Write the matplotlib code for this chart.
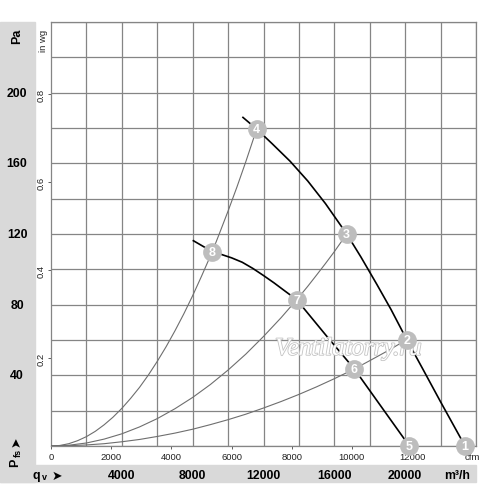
import matplotlib
matplotlib.use('Agg')
import matplotlib.pyplot as plt
import matplotlib.transforms as mtransforms
import matplotlib.patheffects as pe
from matplotlib.patches import Rectangle

# fan curves (qv in m3/h, Pfs in Pa)
upper_q = [10840, 11615, 12500, 13500, 14500, 15500, 16700, 17500, 18400, 19200, 20090,
           21000, 22000, 23380]
upper_p = [186, 179.4, 171, 161.2, 150, 137.2, 120, 107, 91.5, 77.3, 60.2,
           43.5, 25, 0]
lower_q = [8040, 9108, 9600, 10200, 10800, 11400, 12000, 12600, 13200, 13875, 15500,
           17130, 20235]
lower_p = [116.2, 110, 108.5, 106.5, 104, 100.5, 96.5, 92.3, 87.8, 82.8, 63,
           43.6, 0]

# system curves
sys_a_q = [0, 500, 1000, 1500, 2000, 2500, 3000, 3500, 4000, 4500, 5000, 5500, 6000,
           6500, 7000, 7500, 8000, 8500, 9108, 9500, 10000, 10500, 11000, 11615]
sys_a_p = [0, 0.3, 1.3, 3.0, 5.3, 8.3, 12, 16.3, 21.3, 27, 33.2, 40.2, 47.9,
           56.2, 65.2, 74.8, 85.1, 96.1, 110, 120, 133, 146.6, 160.9, 179.4]
sys_b_q = [0, 1000, 2000, 3000, 4000, 5000, 6000, 7000, 8000, 9000, 10000, 11000, 12000,
           13000, 13875, 14500, 15000, 15500, 16000, 16700]
sys_b_p = [0, 0.43, 1.7, 3.9, 6.9, 10.8, 15.5, 21.1, 27.5, 34.8, 43, 52, 62,
           72.7, 82.8, 90.4, 96.8, 103.3, 110, 120]
sys_c_q = [0, 1000, 2000, 3000, 4000, 5000, 6000, 7000, 8000, 9000, 10000, 11000, 12000,
           13000, 14000, 15000, 16000, 17130, 18000, 19000, 20090]
sys_c_p = [0, 0.15, 0.6, 1.3, 2.4, 3.7, 5.4, 7.3, 9.5, 12.1, 14.9, 18, 21.5,
           25.2, 29.2, 33.5, 38.1, 43.6, 48.3, 53.8, 60.2]

# numbered operating points
pt_labels = ['1', '2', '3', '4', '5', '6', '7', '8']
pt_q = [23380, 20090, 16700, 11615, 20235, 17130, 13875, 9108]
pt_p = [0, 60.2, 120, 179.4, 0, 43.6, 82.8, 110]

pa_ticks = [40, 80, 120, 160, 200]
m3h_ticks = [4000, 8000, 12000, 16000, 20000]
cfm_ticks = [0, 2000, 4000, 6000, 8000, 10000, 12000, 14000]
inwg_ticks = [0.2, 0.4, 0.6, 0.8]

W, H = 500, 489
fig = plt.figure(figsize=(W / 100, H / 100), dpi=100)
plt.rcParams['font.family'] = ['Liberation Sans', 'DejaVu Sans']


def fx(px):
    return px / W


def fy(py):
    return 1 - py / H


# grey bands
band = '#d9d9d9'
fig.patches.append(Rectangle((0, fy(483)), fx(35), fy(23) - fy(483), transform=fig.transFigure,
                             color=band, zorder=0))
fig.patches.append(Rectangle((0, fy(483)), fx(476), fy(466) - fy(483), transform=fig.transFigure,
                             color=band, zorder=0))

ax = fig.add_axes([fx(51), fy(447), fx(476) - fx(51), fy(23) - fy(447)])
ax.set_xlim(0, 24000)
ax.set_ylim(0, 240)

gc = '#858585'
for s in ax.spines.values():
    s.set_color(gc)
    s.set_linewidth(0.9)

ax.set_xticks(range(0, 24001, 2000), minor=True)
ax.set_yticks(range(0, 241, 20), minor=True)
ax.grid(which='minor', color=gc, lw=0.9)
ax.tick_params(which='minor', length=0)

ax.set_xticks([c * 1.699 for c in cfm_ticks])
ax.set_xticklabels([str(c) for c in cfm_ticks[:-1]] + ['cfm'], fontsize=6.8, color='#222222')
ax.set_yticks([w * 249.09 for w in inwg_ticks])
ax.set_yticklabels([str(w) for w in inwg_ticks], fontsize=6.8, rotation=90, va='center', color='#222222')
ax.tick_params(which='major', length=2, width=0.6, color='#444444', pad=2)

# system curves
for q, p in [(sys_a_q, sys_a_p), (sys_b_q, sys_b_p), (sys_c_q, sys_c_p)]:
    ax.plot(q, p, color='#6e6e6e', lw=0.8, zorder=3)

ax.plot(upper_q, upper_p, color='black', lw=1.2, zorder=4)
ax.plot(lower_q, lower_p, color='black', lw=1.2, zorder=4)

# watermark
ax.text(16800, 55, 'Ventilatorry.ru', fontsize=18, style='italic', family='Liberation Serif',
        color='white', ha='center', va='center', zorder=4.5,
        path_effects=[pe.withStroke(linewidth=1.2, foreground='#c4c4c4')])

ax.plot(pt_q, pt_p, 'o', ms=13.5, color='#bdbdbd', mec='none', zorder=5, clip_on=False)
for lab, q, p in zip(pt_labels, pt_q, pt_p):
    ax.text(q, p, lab, color='white', fontsize=9, fontweight='bold', ha='center', va='center',
            zorder=6, clip_on=False)

# Pa labels
ty = mtransforms.blended_transform_factory(fig.transFigure, ax.transData)
for v in pa_ticks:
    fig.text(fx(17), v, str(v), transform=ty, fontsize=8.8, fontweight='bold', ha='center', va='center')
fig.text(fx(17), fy(36), 'Pa', fontsize=9, fontweight='bold', rotation=90, ha='center', va='center')
fig.text(fx(43), fy(41), 'in wg', fontsize=6.8, rotation=90, ha='center', va='center', color='#222222')

# m3/h labels
tx = mtransforms.blended_transform_factory(ax.transData, fig.transFigure)
for v in m3h_ticks:
    fig.text(v, fy(476), str(v), transform=tx, fontsize=8.8, fontweight='bold', ha='center', va='center')
fig.text(fx(457), fy(476), 'm³/h', fontsize=8.8, fontweight='bold', ha='center', va='center')

# axis names
fig.text(fx(36), fy(476), 'q', fontsize=9, fontweight='bold', ha='center', va='center')
fig.text(fx(44), fy(478), 'v', fontsize=6.5, fontweight='bold', ha='center', va='center')
fig.text(fx(57), fy(476), '➤', fontsize=9, family='DejaVu Sans', ha='center', va='center')
fig.text(fx(15), fy(463), 'P', fontsize=9, fontweight='bold', rotation=90, ha='center', va='center')
fig.text(fx(18.5), fy(453), 'fs', fontsize=6.5, fontweight='bold', rotation=90, ha='center', va='center')
fig.text(fx(16), fy(442), '➤', fontsize=9, family='DejaVu Sans', rotation=90, ha='center', va='center')

fig.savefig('out.png', dpi=100)
